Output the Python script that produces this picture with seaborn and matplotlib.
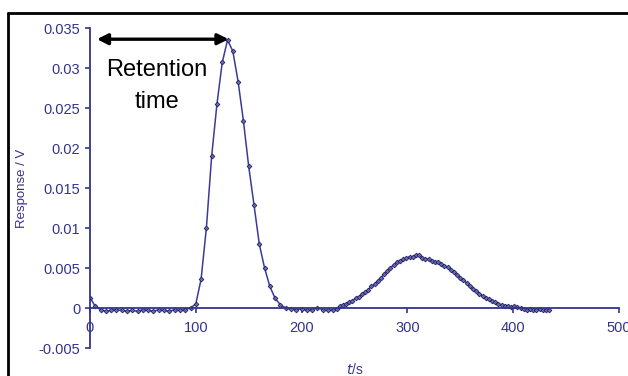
import matplotlib
matplotlib.use("Agg")
import matplotlib.pyplot as plt
import seaborn as sns
import pandas as pd
from matplotlib.lines import Line2D

# ---- data ----
t_first = [0, 5, 10, 15, 20, 25, 30, 35, 40, 45, 50, 55, 60, 65, 70, 75, 80, 85, 90, 95,
           100, 105, 110, 115, 120, 125, 130, 135, 140, 145, 150, 155, 160, 165, 170, 175,
           180, 185, 190, 195, 200, 205, 210, 215, 220, 225, 230]
v_first = [0.0013, 0.0002, -0.0002, -0.0004, -0.0003, -0.0002, -0.0003, -0.0004, -0.0003,
           -0.0004, -0.0002, -0.0003, -0.0004, -0.0002, -0.0003, -0.0004, -0.0002, -0.0003,
           -0.0002, 0.0000, 0.0005, 0.0036, 0.0100, 0.0190, 0.0255, 0.0307, 0.0335, 0.0321,
           0.0283, 0.0234, 0.0177, 0.0129, 0.0080, 0.0050, 0.0027, 0.0012, 0.0004, 0.0000,
           -0.0001, -0.0002, -0.0001, -0.0003, -0.0002, 0.0000, -0.0002, -0.0003, -0.0002]
t_second = [233, 236, 239, 242, 245, 248, 251, 254, 257, 260, 263, 266, 269, 272, 275, 278,
            281, 284, 287, 290, 293, 296, 299, 302, 305, 308, 311, 314, 317, 320, 323, 326,
            329, 332, 335, 338, 341, 344, 347, 350, 353, 356, 359, 362, 365, 368, 371, 374,
            377, 380, 383, 386, 389, 392, 395, 398, 401, 404, 407, 410, 413, 416, 419, 422,
            425, 428, 431, 434]
v_second = [-0.0001, 0.0002, 0.0004, 0.0005, 0.0007, 0.0009, 0.0012, 0.0014, 0.0017, 0.0020,
            0.0023, 0.0027, 0.0030, 0.0034, 0.0038, 0.0042, 0.0046, 0.0050, 0.0054, 0.0057,
            0.0059, 0.0061, 0.0062, 0.0064, 0.0064, 0.0066, 0.0066, 0.0063, 0.0061, 0.0061,
            0.0059, 0.0058, 0.0057, 0.0055, 0.0053, 0.0051, 0.0048, 0.0045, 0.0041, 0.0038,
            0.0035, 0.0031, 0.0027, 0.0024, 0.0021, 0.0018, 0.0015, 0.0013, 0.0011, 0.0009,
            0.0007, 0.0005, 0.0004, 0.0003, 0.0002, 0.0001, 0.0002, 0.0001, 0.0000, -0.0001,
            -0.0002, -0.0001, -0.0002, -0.0002, -0.0001, -0.0002, -0.0002, -0.0002]
x_ticks = [0, 100, 200, 300, 400, 500]
x_ticklabels = ["0", "100", "200", "300", "400", "500"]
y_ticks = [-0.005, 0, 0.005, 0.01, 0.015, 0.02, 0.025, 0.03, 0.035]
y_ticklabels = ["-0.005", "0", "0.005", "0.01", "0.015", "0.02", "0.025", "0.03", "0.035"]
retention_time = 130
peak_height = 0.0336

# ---- styling ----
sns.set_theme(style="white")
plt.rcParams["font.family"] = ["Liberation Sans", "DejaVu Sans"]
navy = "#34348c"
line_col = "#3a3a9c"
mark_col = "#22226e"

df = pd.DataFrame({"t": t_first + t_second, "v": v_first + v_second})

fig = plt.figure(figsize=(6.28, 3.76), dpi=100)
ax = fig.add_axes([90 / 628, 28 / 376, 529 / 628, 320 / 376])

sns.lineplot(data=df, x="t", y="v", ax=ax, color=line_col, linewidth=1.1,
             marker="D", markersize=2.4, markerfacecolor="#6a6aa8",
             markeredgecolor=mark_col, markeredgewidth=0.6)

ax.set_xlim(0, 500)
ax.set_ylim(-0.005, 0.035)
ax.set_xticks(x_ticks)
ax.set_xticklabels(x_ticklabels)
ax.set_yticks(y_ticks)
ax.set_yticklabels(y_ticklabels)

for s in ["top", "right"]:
    ax.spines[s].set_visible(False)
ax.spines["bottom"].set_position(("data", 0))
for s in ["left", "bottom"]:
    ax.spines[s].set_color(navy)
    ax.spines[s].set_linewidth(1.3)

ax.tick_params(axis="both", colors=navy, labelcolor=navy, labelsize=10.5,
               direction="out", length=3.5, width=1.2)
ax.tick_params(axis="x", pad=5.5)
ax.tick_params(axis="y", pad=3.5)
ax.xaxis.set_ticks_position("bottom")
ax.yaxis.set_ticks_position("left")
ax.grid(False)

ax.set_ylabel("Response / V", color=navy, fontsize=9.5)
ax.set_xlabel(r"$\it{t}$/s", color=navy, fontsize=10)
ax.xaxis.set_label_coords(0.5, -0.045)
ax.yaxis.set_label_coords(-0.117, 0.5)

# retention-time annotation
ax.annotate("", xy=(retention_time + 1, peak_height), xytext=(6.5, peak_height),
            arrowprops=dict(arrowstyle="<|-|>", color="black", lw=2.4,
                            mutation_scale=16, shrinkA=0, shrinkB=0))
ax.text(63, 0.0297, "Retention", ha="center", va="center", fontsize=17, color="black")
ax.text(63, 0.0257, "time", ha="center", va="center", fontsize=17, color="black")

# outer frame (partially visible in the reference)
fl = 8 / 628
ft = 1 - 13 / 376
fig.add_artist(Line2D([fl, fl], [0, ft], transform=fig.transFigure, color="black", lw=2))
fig.add_artist(Line2D([fl, 1], [ft, ft], transform=fig.transFigure, color="black", lw=2))

fig.savefig("out.png", dpi=100)
